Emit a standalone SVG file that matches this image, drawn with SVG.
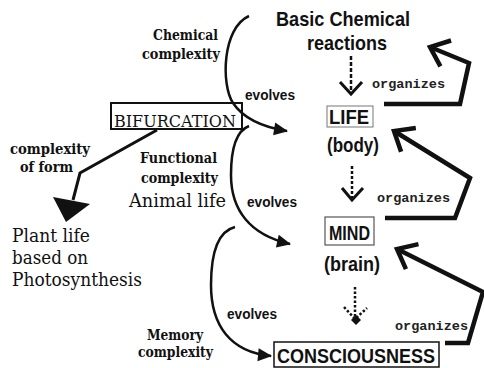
<svg xmlns="http://www.w3.org/2000/svg" width="484" height="368" viewBox="0 0 484 368">
<style>
.sans{font-family:"Liberation Sans",Arial,sans-serif;font-weight:bold;fill:#111}
.big{font-size:21px}
.ev{font-size:14.5px}
.mono{font-family:"Liberation Mono","Courier New",monospace;font-weight:bold;font-size:13px;fill:#222}
.sb{font-family:"DejaVu Serif","Liberation Serif",serif;font-weight:bold;font-size:14.5px;fill:#111}
.sr{font-family:"DejaVu Serif","Liberation Serif",serif;font-size:18px;fill:#111}
.curve{fill:none;stroke:#111;stroke-width:2.5}
.org{fill:none;stroke:#111;stroke-width:4.5;stroke-linejoin:miter}
</style>
<defs>
<marker id="tri" markerUnits="userSpaceOnUse" markerWidth="1" markerHeight="1" refX="0" refY="0" orient="auto" overflow="visible">
<path d="M1,0 L-13,-6.5 L-13,6.5 Z" fill="#111"/>
</marker>
<marker id="open" markerUnits="userSpaceOnUse" markerWidth="1" markerHeight="1" refX="0" refY="0" orient="auto" overflow="visible">
<path d="M-17,-14 L0,0 L-17,14" fill="none" stroke="#111" stroke-width="4.5"/>
</marker>
</defs>

<g id="basic">
<text class="sans big" x="276" y="26" textLength="134" lengthAdjust="spacingAndGlyphs">Basic Chemical</text>
<text class="sans big" x="307" y="50" textLength="80" lengthAdjust="spacingAndGlyphs">reactions</text>
</g>
<g id="life">
<rect x="327" y="106" width="46" height="21" fill="#fff" stroke="#777" stroke-width="1"/>
<text class="sans big" x="329" y="123.5" textLength="40" lengthAdjust="spacingAndGlyphs">LIFE</text>
<text class="sans big" x="327" y="152" textLength="52" lengthAdjust="spacingAndGlyphs">(body)</text>
</g>
<g id="mind">
<rect x="325" y="217" width="49" height="28" fill="#fff" stroke="#555" stroke-width="1.2"/>
<text class="sans big" x="329" y="239.5" textLength="41" lengthAdjust="spacingAndGlyphs">MIND</text>
<text class="sans big" x="324" y="271" textLength="56" lengthAdjust="spacingAndGlyphs">(brain)</text>
</g>
<g id="consciousness">
<rect x="274" y="342" width="165" height="25" fill="#fff" stroke="#111" stroke-width="1.5"/>
<text class="sans big" x="277" y="362.5" textLength="158" lengthAdjust="spacingAndGlyphs">CONSCIOUSNESS</text>
</g>
<g id="bifurcation">
<rect x="111" y="103" width="131" height="26" fill="#fff" stroke="#111" stroke-width="2"/>
<text x="114" y="126.5" font-family="'DejaVu Serif','Liberation Serif',serif" font-size="16.5px" fill="#111" textLength="122" lengthAdjust="spacingAndGlyphs">BIFURCATION</text>
</g>
<g id="plant">
<text class="sr" x="12" y="242" textLength="78" lengthAdjust="spacingAndGlyphs">Plant life</text>
<text class="sr" x="12" y="264" textLength="76" lengthAdjust="spacingAndGlyphs">based on</text>
<text class="sr" x="12" y="286" textLength="130" lengthAdjust="spacingAndGlyphs">Photosynthesis</text>
</g>
<g id="animal">
<text class="sr" x="129" y="207" textLength="97" lengthAdjust="spacingAndGlyphs">Animal life</text>
</g>

<g id="labels">
<text class="sb" x="153" y="40" textLength="65" lengthAdjust="spacingAndGlyphs">Chemical</text>
<text class="sb" x="142" y="59" textLength="78" lengthAdjust="spacingAndGlyphs">complexity</text>
<text class="sb" x="10" y="154" textLength="80" lengthAdjust="spacingAndGlyphs">complexity</text>
<text class="sb" x="20" y="172" textLength="53" lengthAdjust="spacingAndGlyphs">of form</text>
<text class="sb" x="140" y="163" textLength="77" lengthAdjust="spacingAndGlyphs">Functional</text>
<text class="sb" x="141" y="183" textLength="77" lengthAdjust="spacingAndGlyphs">complexity</text>
<text class="sb" x="147" y="340" textLength="56" lengthAdjust="spacingAndGlyphs">Memory</text>
<text class="sb" x="138" y="357" textLength="75" lengthAdjust="spacingAndGlyphs">complexity</text>
<text class="sans ev" x="245" y="100" textLength="50" lengthAdjust="spacingAndGlyphs">evolves</text>
<text class="sans ev" x="247" y="207" textLength="50" lengthAdjust="spacingAndGlyphs">evolves</text>
<text class="sans ev" x="227" y="319" textLength="50" lengthAdjust="spacingAndGlyphs">evolves</text>
<text class="mono" x="372" y="88" textLength="73" lengthAdjust="spacingAndGlyphs">organizes</text>
<text class="mono" x="377" y="202" textLength="73" lengthAdjust="spacingAndGlyphs">organizes</text>
<text class="mono" x="395" y="330" textLength="73" lengthAdjust="spacingAndGlyphs">organizes</text>
</g>

<g id="connectors">
<path class="curve" d="M249,16 C222,28 221,85 233,103 C243,118 262,127 287,131" marker-end="url(#tri)"/>
<path class="curve" d="M249,126 C236,131 231,150 231,175 C231,210 250,235 290,244" marker-end="url(#tri)"/>
<path class="curve" d="M235,227 C215,232 211,260 211,285 C211,325 230,352 271,356" marker-end="url(#tri)"/>
<polyline points="157,130 80,173 73,200" fill="none" stroke="#111" stroke-width="3"/>
<polygon points="53,197 90,204 66,222" fill="#111"/>
<polyline class="org" points="384,104 460,104 469,63 430,47" marker-end="url(#open)"/>
<polyline class="org" points="385,218 455,218 470,178 394,131" marker-end="url(#open)"/>
<polyline class="org" points="445,343 468,343 483,292 397,249" marker-end="url(#open)"/>
<line x1="351" y1="56" x2="351" y2="93" stroke="#111" stroke-width="2.5" stroke-dasharray="4 2"/>
<polyline points="340,82 351,94 362,82" fill="none" stroke="#111" stroke-width="3"/>
<line x1="352" y1="166" x2="352" y2="199" stroke="#111" stroke-width="2.5" stroke-dasharray="3 2"/>
<polyline points="342,188 352,200 363,188" fill="none" stroke="#111" stroke-width="3"/>
<line x1="355" y1="287" x2="355" y2="318" stroke="#111" stroke-width="2.5" stroke-dasharray="2.5 2"/>
<polyline points="344,307 355,319 367,308" fill="none" stroke="#111" stroke-width="2.5" stroke-dasharray="2.5 2"/>
<polygon points="356,315 361,320 356,325 351,320" fill="#111"/>
</g>
</svg>
